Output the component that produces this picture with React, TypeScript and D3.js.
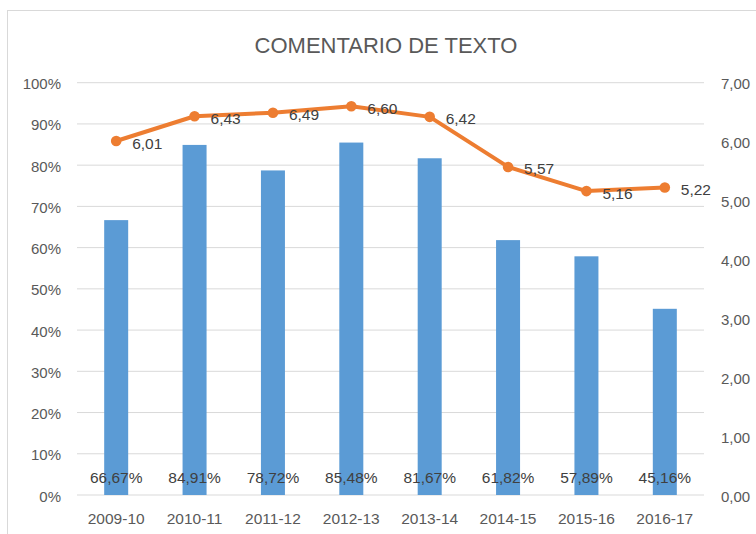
import React from "react";
import * as d3 from "d3";

const categories = ["2009-10", "2010-11", "2011-12", "2012-13", "2013-14", "2014-15", "2015-16", "2016-17"];
const barValues = [66.67, 84.91, 78.72, 85.48, 81.67, 61.82, 57.89, 45.16];
const lineValues = [6.01, 6.43, 6.49, 6.6, 6.42, 5.57, 5.16, 5.22];
const leftTicks = [0, 10, 20, 30, 40, 50, 60, 70, 80, 90, 100];
const rightTicks = [0, 1, 2, 3, 4, 5, 6, 7];
const title = "COMENTARIO DE TEXTO";

const W = 756;
const H = 534;
const plotLeft = 77;
const plotRight = 704;
const plotTop = 82.7;
const plotBottom = 495;
const FONT = "'Liberation Sans', Arial, sans-serif";
const BLUE = "#5B9BD5";
const ORANGE = "#ED7D31";

export default function App() {
  const x = d3.scaleBand<string>().domain(categories).range([plotLeft, plotRight]).paddingInner(0).paddingOuter(0);
  const yL = d3.scaleLinear().domain([0, 100]).range([plotBottom, plotTop]);
  const yR = d3.scaleLinear().domain([0, 7]).range([plotBottom, plotTop]);
  const barW = 24;
  const cx = (c: string) => (x(c) as number) + x.bandwidth() / 2;
  const fmtPct = (v: number) => v.toFixed(2).replace(".", ",") + "%";
  const fmtNum = (v: number) => v.toFixed(2).replace(".", ",");
  const line = d3
    .line<number>()
    .x((_, i) => cx(categories[i]))
    .y((d) => yR(d));

  return (
    <div style={{ position: "absolute", left: 0, top: 0 }}>
      <svg width={W} height={H} style={{ display: "block", background: "#fff" }}>
        <rect x={7.5} y={10.5} width={900} height={700} fill="#fff" stroke="#d9d9d9" strokeWidth={1} />
        <text x={386} y={45} textAnchor="middle" dominantBaseline="central" fontFamily={FONT} fontSize={22} fill="#595959">
          {title}
        </text>
        {leftTicks.map((t) => (
          <line key={"g" + t} x1={plotLeft} x2={plotRight} y1={yL(t)} y2={yL(t)} stroke="#d9d9d9" strokeWidth={1} />
        ))}
        {leftTicks.map((t) => (
          <text key={"l" + t} x={61} y={yL(t) + 1} textAnchor="end" dominantBaseline="central" fontFamily={FONT} fontSize={15} fill="#595959">
            {t + "%"}
          </text>
        ))}
        {rightTicks.map((t) => (
          <text key={"r" + t} x={721} y={yR(t) + 1} textAnchor="start" dominantBaseline="central" fontFamily={FONT} fontSize={15} fill="#595959">
            {fmtNum(t)}
          </text>
        ))}
        {categories.map((c, i) => (
          <rect key={"b" + c} x={cx(c) - barW / 2} y={yL(barValues[i])} width={barW} height={plotBottom - yL(barValues[i])} fill={BLUE} />
        ))}
        {categories.map((c) => (
          <text key={"x" + c} x={cx(c)} y={518} textAnchor="middle" dominantBaseline="central" fontFamily={FONT} fontSize={15.5} fill="#595959">
            {c}
          </text>
        ))}
        {categories.map((c, i) => (
          <text key={"bl" + c} x={cx(c)} y={477} textAnchor="middle" dominantBaseline="central" fontFamily={FONT} fontSize={15.5} fill="#404040">
            {fmtPct(barValues[i])}
          </text>
        ))}
        <path d={line(lineValues) || ""} fill="none" stroke={ORANGE} strokeWidth={4} strokeLinejoin="round" strokeLinecap="round" />
        {categories.map((c, i) => (
          <circle key={"m" + c} cx={cx(c)} cy={yR(lineValues[i])} r={5.3} fill={ORANGE} />
        ))}
        {categories.map((c, i) => (
          <text key={"ll" + c} x={cx(c) + 16} y={yR(lineValues[i]) + 2} textAnchor="start" dominantBaseline="central" fontFamily={FONT} fontSize={15.5} fill="#404040">
            {fmtNum(lineValues[i])}
          </text>
        ))}
      </svg>
    </div>
  );
}
